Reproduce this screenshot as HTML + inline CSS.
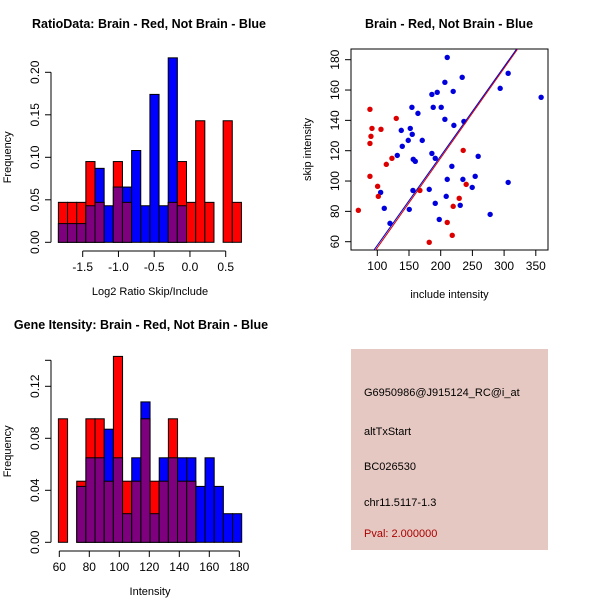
<!DOCTYPE html>
<html><head><meta charset="utf-8"><style>
body{margin:0;background:#fff}
svg{display:block;font-family:"Liberation Sans",sans-serif}
</style></head><body>
<svg id="c" width="600" height="600" viewBox="0 0 600 600"></svg>
<script>
// Panel 1: ratio histogram
const ratioBinStart = -1.84, ratioBinWidth = 0.128;
const ratioRed  = [0.047,0.047,0.047,0.095,0.047,0,0.095,0.047,0,0,0,0,0.047,0.095,0.047,0.143,0.047,0,0.143,0.047];
const ratioBlue = [0.022,0.022,0.022,0.043,0.087,0.043,0.065,0.065,0.108,0.043,0.174,0.043,0.217,0.043,0,0,0,0,0,0];
const ratioXTicks = [-1.5,-1.0,-0.5,0.0,0.5];
const ratioYTicks = [0,0.05,0.10,0.15,0.20];
// Panel 2: scatter
const brainX = [88.4,91.6,105.8,90,88.4,129.9,123.1,114.2,88.4,100.5,101.6,70.1,167.2,235.5,240.2,229.2,219.7,210.3,218.2,181.9];
const brainY = [147.3,134.7,134.1,129.5,124.8,141.3,115,111,103.1,96.5,89.9,80.7,93.8,120.2,97.8,88.6,83.3,72.7,64.2,59.6];
const notBrainX = [210.3,233.9,306.4,293.8,358.4,206.6,219.7,194.5,186.1,154.6,164.1,188.2,200.8,206.6,236.6,220.8,137.8,152,155.1,148.8,170.9,139.4,131.5,186.1,191.4,156.7,159.9,259.1,217.6,210.3,235,254.4,249.7,306.4,181.9,156.2,105.3,208.7,191.4,230.8,111,150.4,278,197.7,120];
const notBrainY = [181.5,168.4,171,161.1,155.2,165.1,159.1,158.5,157.1,148.6,144.6,148.6,148.6,140.7,139.3,136.7,133.4,134.7,130.8,126.8,126.8,122.9,116.9,118.2,115,114.3,113,116.3,109.7,101.1,101.1,103.1,95.8,99.1,94.5,93.8,92.5,89.9,85.3,84,82,81.3,78,74.7,72.1];
const fitBlue = [-1.3,0.589];
const fitRed = [-3.2,0.592];
const scatterXTicks = [100,150,200,250,300,350];
const scatterYTicks = [60,80,100,120,140,160,180];
// Panel 3: intensity histogram
const intBinStart = 59.4, intBinWidth = 6.11;
const intRed  = [0.095,0,0.047,0.095,0.095,0.047,0.143,0.047,0.047,0.095,0.047,0.047,0.095,0.047,0.047,0,0,0,0,0];
const intBlue = [0,0,0.043,0.065,0.065,0.087,0.065,0.022,0.065,0.108,0.022,0.065,0.065,0.065,0.065,0.043,0.065,0.043,0.022,0.022];
const intXTicks = [60,80,100,120,140,160,180];
const intYTicks = [0,0.04,0.08,0.12];
const intYTop = 0.14;

const svg = document.getElementById('c');
const NS = 'http://www.w3.org/2000/svg';
function mk(tag, attrs, parent){const e=document.createElementNS(NS,tag);for(const k in attrs)e.setAttribute(k,attrs[k]);(parent||svg).appendChild(e);return e;}
function txt(s, attrs, parent){const e=mk('text',attrs,parent);e.textContent=s;return e;}

function title(s,x,y,name){const t=txt(s,{x:x,y:y,'text-anchor':'middle','font-size':12.5,'font-weight':'bold'});

}

function hist(cfg){
  const g=mk('g',{});
  
  
  const sx=v=>cfg.x0px+(v-cfg.x0)*cfg.kx, sy=v=>cfg.y0px-v*cfg.ky;
  for(let i=0;i<cfg.red.length;i++){
    const r=cfg.red[i], b=cfg.blue[i];
    const xa=sx(cfg.start+i*cfg.width), xb=sx(cfg.start+(i+1)*cfg.width);
    const mx=Math.max(r,b), mn=Math.min(r,b);
    if(mx<=0) continue;
    const col = r>=b ? '#ff0000' : '#0000ff';
    const bar=mk('rect',{x:xa,y:sy(mx),width:xb-xa,height:sy(0)-sy(mx),fill:col,stroke:'#000','stroke-width':1},g);
    
    
    if(mn>0){
      const p=mk('rect',{x:xa,y:sy(mn),width:xb-xa,height:sy(0)-sy(mn),fill:'#7f007f',stroke:'#000','stroke-width':1},g);
      
      
    }
  }
  const xa=mk('g',{});
  
  
  const ay=cfg.axisY;
  mk('line',{x1:sx(cfg.xt[0]),x2:sx(cfg.xt[cfg.xt.length-1]),y1:ay,y2:ay,stroke:'#000'},xa);
  cfg.xt.forEach(t=>{mk('line',{x1:sx(t),x2:sx(t),y1:ay,y2:ay+6,stroke:'#000'},xa);
    txt(cfg.xfmt(t),{x:sx(t),y:ay+20,'text-anchor':'middle','font-size':12},xa);});
  txt(cfg.xlabel,{x:(cfg.plotL+cfg.plotR)/2,y:ay+44,'text-anchor':'middle','font-size':11},xa);
  const ya=mk('g',{});
  
  
  const axx=cfg.axisX;
  const top=cfg.ytop!==undefined?cfg.ytop:cfg.yt[cfg.yt.length-1];
  mk('line',{x1:axx,x2:axx,y1:sy(0),y2:sy(top),stroke:'#000'},ya);
  const all=cfg.ytop!==undefined?cfg.yt.concat([cfg.ytop]):cfg.yt;
  all.forEach(t=>{mk('line',{x1:axx-6,x2:axx,y1:sy(t),y2:sy(t),stroke:'#000'},ya);});
  cfg.yt.forEach(t=>{txt(t.toFixed(2),{x:0,y:0,'text-anchor':'middle','font-size':12,transform:`translate(${axx-12},${sy(t)}) rotate(-90)`},ya);});
  txt('Frequency',{x:0,y:0,'text-anchor':'middle','font-size':11,transform:`translate(${axx-40},${sy(top/2)}) rotate(-90)`},ya);
}

title('RatioData: Brain - Red, Not Brain - Blue',149,28,'ratio-title');
hist({name:'ratio-histogram',red:ratioRed,blue:ratioBlue,start:ratioBinStart,width:ratioBinWidth,
  x0:-1.5,x0px:82.7,kx:71.5,y0px:242.3,ky:850,axisY:251,axisX:51,xt:ratioXTicks,yt:ratioYTicks,
  xfmt:t=>t.toFixed(1),xlabel:'Log2 Ratio Skip/Include',plotL:51,plotR:249});

title('Gene Itensity: Brain - Red, Not Brain - Blue',141,329,'intensity-title');
hist({name:'intensity-histogram',red:intRed,blue:intBlue,start:intBinStart,width:intBinWidth,
  x0:60,x0px:59.3,kx:1.5,y0px:542.3,ky:1300,axisY:551,axisX:51,xt:intXTicks,yt:intYTicks,ytop:intYTop,
  xfmt:t=>String(t),xlabel:'Intensity',plotL:51,plotR:249});

title('Brain - Red, Not Brain - Blue',449,28,'scatter-title');
(function(){
  const L=351,R=548,T=49,B=250;
  const sx=v=>377.3+(v-100)*0.634, sy=v=>241.7-(v-60)*1.5167;
  const g=mk('g',{});
  
  
  const frame=mk('rect',{x:L,y:T,width:R-L,height:B-T,fill:'none',stroke:'#000'},g);
  
  
  mk('clipPath',{id:'clp'},g).appendChild((()=>{const r=document.createElementNS(NS,'rect');r.setAttribute('x',L);r.setAttribute('y',T);r.setAttribute('width',R-L);r.setAttribute('height',B-T);return r;})());
  notBrainX.forEach((x,i)=>{const c=mk('circle',{cx:sx(x),cy:sy(notBrainY[i]),r:2.7,fill:'#0000dd'},g);
    
    });
  brainX.forEach((x,i)=>{const c=mk('circle',{cx:sx(x),cy:sy(brainY[i]),r:2.7,fill:'#dd0000'},g);
    
    });
  [[fitRed,'#dd0000','fit-line-brain'],[fitBlue,'#0000cc','fit-line-not-brain']].forEach(([f,col,nm])=>{
    const xa=40,xb=400;
    const l=mk('line',{x1:sx(xa),y1:sy(f[0]+f[1]*xa),x2:sx(xb),y2:sy(f[0]+f[1]*xb),stroke:col,'stroke-width':1,'clip-path':'url(#clp)'},g);
    
    
  });
  const xa=mk('g',{});
  
  
  scatterXTicks.forEach(t=>{mk('line',{x1:sx(t),x2:sx(t),y1:B,y2:B+6,stroke:'#000'},xa);
    txt(String(t),{x:sx(t),y:B+20,'text-anchor':'middle','font-size':12},xa);});
  txt('include intensity',{x:(L+R)/2,y:B+48,'text-anchor':'middle','font-size':11},xa);
  const ya=mk('g',{});
  
  
  scatterYTicks.forEach(t=>{mk('line',{x1:L-6,x2:L,y1:sy(t),y2:sy(t),stroke:'#000'},ya);
    txt(String(t),{x:0,y:0,'text-anchor':'middle','font-size':12,transform:`translate(${L-12},${sy(t)}) rotate(-90)`},ya);});
  txt('skip intensity',{x:0,y:0,'text-anchor':'middle','font-size':11,transform:`translate(${L-40},${(T+B)/2}) rotate(-90)`},ya);
})();

(function(){
  const g=mk('g',{});
  
  
  mk('rect',{x:351,y:349,width:197,height:201,fill:'#e6c8c2'},g);
  const lines=[['G6950986@J915124_RC@i_at',396,'#000','probe-id'],['altTxStart',435,'#000','event-type'],['BC026530',470,'#000','accession'],['chr11.5117-1.3',506,'#000','location'],['Pval: 2.000000',537,'#aa0000','p-value']];
  lines.forEach(([s,y,c,nm])=>{const t=txt(s,{x:364,y:y,'font-size':11,fill:c},g);
    
    });
})();
</script>
</body></html>
